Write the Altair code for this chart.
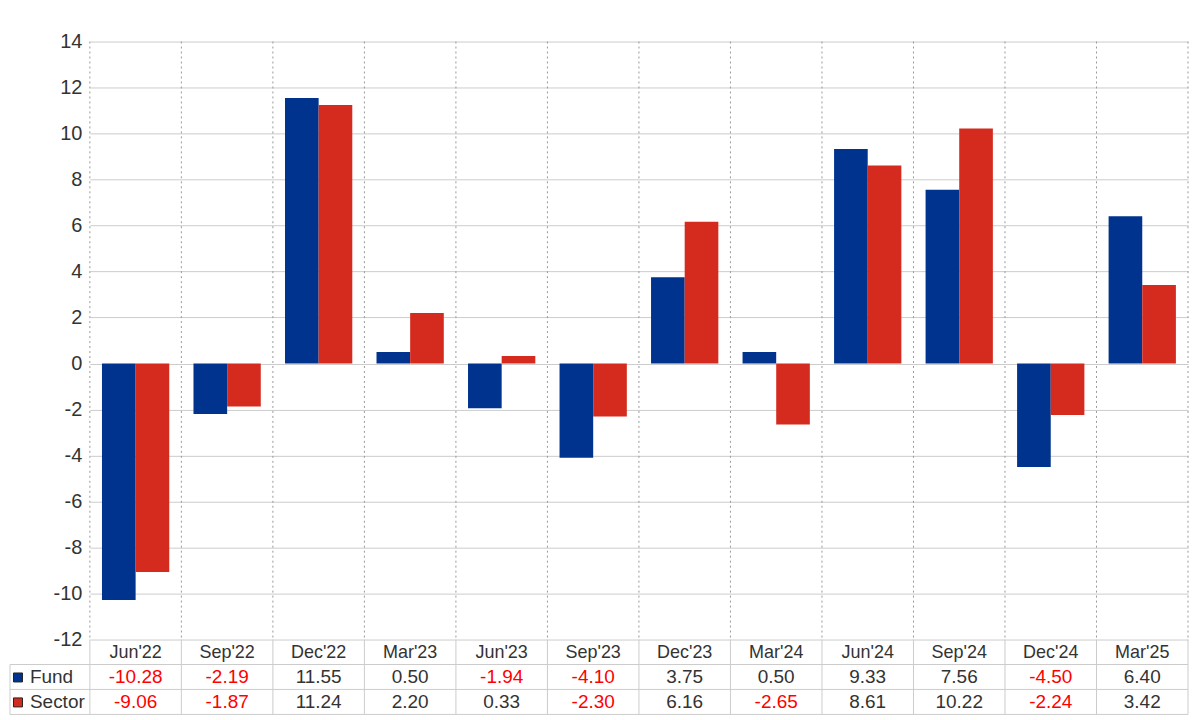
import altair as alt
import pandas as pd

categories = ["Jun'22", "Sep'22", "Dec'22", "Mar'23", "Jun'23", "Sep'23",
              "Dec'23", "Mar'24", "Jun'24", "Sep'24", "Dec'24", "Mar'25"]
fund = [-10.28, -2.19, 11.55, 0.50, -1.94, -4.10, 3.75, 0.50, 9.33, 7.56, -4.50, 6.40]
sector = [-9.06, -1.87, 11.24, 2.20, 0.33, -2.30, 6.16, -2.65, 8.61, 10.22, -2.24, 3.42]
series = ["Fund", "Sector"]
colors = ["#00338D", "#D52B1E"]
y_ticks = list(range(-12, 15, 2))

rows = []
for s, vals in zip(series, [fund, sector]):
    for c, v in zip(categories, vals):
        rows.append({"cat": c, "series": s, "value": v})
df = pd.DataFrame(rows)

FONT = "Liberation Sans"
W, PLOT_H, H = 1100, 599, 675
GRID = "#cccccc"
TXT = "#333333"
one = alt.Data(values=[{}])

xs = alt.Scale(domain=categories, paddingInner=0, paddingOuter=0)

bars = alt.Chart(df).mark_bar().encode(
    x=alt.X("cat:N", sort=categories, scale=xs, axis=None),
    xOffset=alt.XOffset("series:N", sort=series,
                        scale=alt.Scale(paddingOuter=0.36, paddingInner=0)),
    y=alt.Y("value:Q",
            scale=alt.Scale(domain=[-12, 14], range=[PLOT_H, 0], nice=False, zero=False),
            axis=alt.Axis(values=y_ticks, title=None, domain=False, ticks=False, tickSize=0,
                          labelFontSize=20, labelColor=TXT, labelPadding=8, labelFont=FONT,
                          labelExpr="replace(datum.label, '\u2212', '-')",
                          grid=True, gridColor=GRID, gridWidth=1)),
    color=alt.Color("series:N", scale=alt.Scale(domain=series, range=colors), legend=None),
)

cat_df = pd.DataFrame({"cat": categories})
last_df = pd.DataFrame({"cat": [categories[-1]]})

vdot = alt.Chart(cat_df).mark_rule(color="#999999", strokeDash=[2, 3], strokeWidth=1).encode(
    x=alt.X("cat:N", sort=categories, bandPosition=0, axis=None),
    y=alt.value(0), y2=alt.value(PLOT_H))
vdot_end = alt.Chart(last_df).mark_rule(color="#999999", strokeDash=[2, 3], strokeWidth=1).encode(
    x=alt.X("cat:N", sort=categories, bandPosition=1, axis=None),
    y=alt.value(0), y2=alt.value(PLOT_H))

vtab = alt.Chart(cat_df).mark_rule(color=GRID, strokeWidth=1).encode(
    x=alt.X("cat:N", sort=categories, bandPosition=0, axis=None),
    y=alt.value(PLOT_H), y2=alt.value(H - 1))
vtab_end = alt.Chart(last_df).mark_rule(color=GRID, strokeWidth=1).encode(
    x=alt.X("cat:N", sort=categories, bandPosition=1, axis=None),
    y=alt.value(PLOT_H), y2=alt.value(H - 1))
vtab_left = alt.Chart(one).mark_rule(color=GRID, strokeWidth=1).encode(
    x=alt.value(-80), y=alt.value(624), y2=alt.value(H - 1))

hlines = [
    alt.Chart(one).mark_rule(color=GRID, strokeWidth=1).encode(
        x=alt.value(-80), x2=alt.value(W), y=alt.value(yy))
    for yy in (624, 649, H - 1)
]

header = alt.Chart(cat_df).mark_text(fontSize=18, font=FONT, color=TXT, baseline="middle").encode(
    x=alt.X("cat:N", sort=categories, axis=None),
    y=alt.value(612), text="cat:N")


def value_row(name, ypix):
    return alt.Chart(df).transform_filter(alt.datum.series == name).transform_calculate(
        label="replace(format(datum.value, '.2f'), '\u2212', '-')"
    ).mark_text(fontSize=19, font=FONT, baseline="middle").encode(
        x=alt.X("cat:N", sort=categories, axis=None),
        y=alt.value(ypix),
        text=alt.Text("label:N"),
        color=alt.condition(alt.datum.value < 0, alt.value("#ff0000"), alt.value(TXT)),
    )


legend_df = pd.DataFrame({"series": series, "row": [637, 662]})
row_labels = alt.Chart(legend_df).mark_text(fontSize=19, font=FONT, color=TXT, align="left",
                                            baseline="middle").encode(
    x=alt.value(-60), y=alt.Y("row:Q", scale=None), text="series:N")
swatches = alt.Chart(legend_df).mark_square(size=81, opacity=1, stroke="#222222",
                                            strokeWidth=1).encode(
    x=alt.value(-72), y=alt.Y("row:Q", scale=None),
    color=alt.Color("series:N", scale=alt.Scale(domain=series, range=colors), legend=None))

chart = alt.layer(
    vdot, vdot_end, bars, vtab, vtab_end, vtab_left, *hlines, header,
    value_row("Fund", 637), value_row("Sector", 662), row_labels, swatches,
).resolve_scale(y="independent").properties(
    width=W, height=H,
    autosize=alt.AutoSizeParams(type="none"),
    padding={"left": 82, "top": 33, "right": 4, "bottom": 2},
    background="white",
).configure_view(stroke=None)

chart.save("out.html", embed_options={"renderer": "svg", "actions": False})
